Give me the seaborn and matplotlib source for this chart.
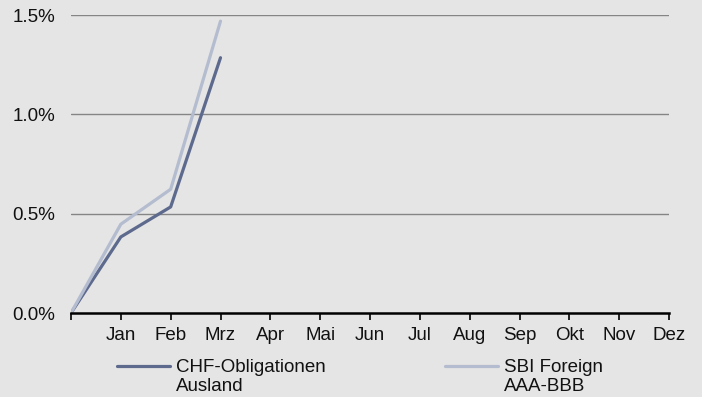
import matplotlib
matplotlib.use("Agg")
import matplotlib.pyplot as plt
import seaborn as sns
import pandas as pd
import numpy as np
from matplotlib.legend_handler import HandlerLine2D

# Cumulative year-to-date performance (%), starting point at 0
months = ["", "Jan", "Feb", "Mrz", "Apr", "Mai", "Jun", "Jul", "Aug", "Sep", "Okt", "Nov", "Dez"]
chf_oblig = [0.0, 0.383, 0.534, 1.285]
sbi_foreign = [0.0, 0.447, 0.623, 1.469]
series_names = ["CHF-Obligationen\nAusland", "SBI Foreign\nAAA-BBB"]
series_colors = ["#5d6a8e", "#b4bccf"]
y_ticks = [0.0, 0.5, 1.0, 1.5]

bg = "#e5e5e5"
FS = 13.5

sns.set_theme(style="white")
plt.rcParams["font.family"] = ["Liberation Sans", "DejaVu Sans"]


class FirstLineHandler(HandlerLine2D):
    """Legend line placed level with the first row of a two-row label."""

    def create_artists(self, legend, orig_handle, xdescent, ydescent, width, height, fontsize, trans):
        artists = super().create_artists(legend, orig_handle, xdescent, ydescent,
                                         width, height, fontsize, trans)
        for a in artists:
            a.set_ydata(np.asarray(a.get_ydata()) + 8.0)
        return artists


rows = []
for name, vals in zip(series_names, [chf_oblig, sbi_foreign]):
    for i, v in enumerate(vals):
        rows.append({"pos": i, "value": v, "series": name})
df = pd.DataFrame(rows)

fig = plt.figure(figsize=(7.02, 3.97), dpi=100, facecolor=bg)
ax = fig.add_axes([71 / 702, 1 - 313 / 397, (669 - 71) / 702, (313 - 15) / 397])
ax.set_facecolor(bg)

for y in y_ticks[1:]:
    ax.axhline(y, color="#858585", lw=1.0, zorder=1)

sns.lineplot(data=df, x="pos", y="value", hue="series", hue_order=series_names,
             palette=series_colors, linewidth=2.3, ax=ax, zorder=3, legend=False)

ax.set_xlim(0, 12)
ax.set_ylim(0, 1.5)
ax.set_xticks(range(13))
ax.set_xticklabels(months, fontsize=FS, color="#111111")
ax.set_yticks(y_ticks)
ax.set_yticklabels([f"{v:.1f}%" for v in y_ticks], fontsize=FS, color="#111111")
ax.tick_params(axis="x", direction="out", length=5, width=1.2, color="black", pad=5, bottom=True)
ax.tick_params(axis="y", length=0, pad=11.5)
ax.set_xlabel("")
ax.set_ylabel("")
for s in ["top", "right", "left"]:
    ax.spines[s].set_visible(False)
ax.spines["bottom"].set_color("black")
ax.spines["bottom"].set_linewidth(1.8)
ax.spines["bottom"].set_zorder(4)

handles = [plt.Line2D([], [], color=c, lw=2.3) for c in series_colors]
leg = fig.legend(handles, series_names, loc="upper left", bbox_to_anchor=(117 / 702, 1 - 359 / 397),
                 ncol=2, frameon=False, fontsize=FS, handlelength=2.83, handletextpad=0.32,
                 columnspacing=6.35, borderaxespad=0, borderpad=0, labelspacing=0.2,
                 handler_map={plt.Line2D: FirstLineHandler()})
for t in leg.get_texts():
    t.set_color("#111111")
    t.set_linespacing(1.13)

fig.savefig("out.png", dpi=100, facecolor=bg)
